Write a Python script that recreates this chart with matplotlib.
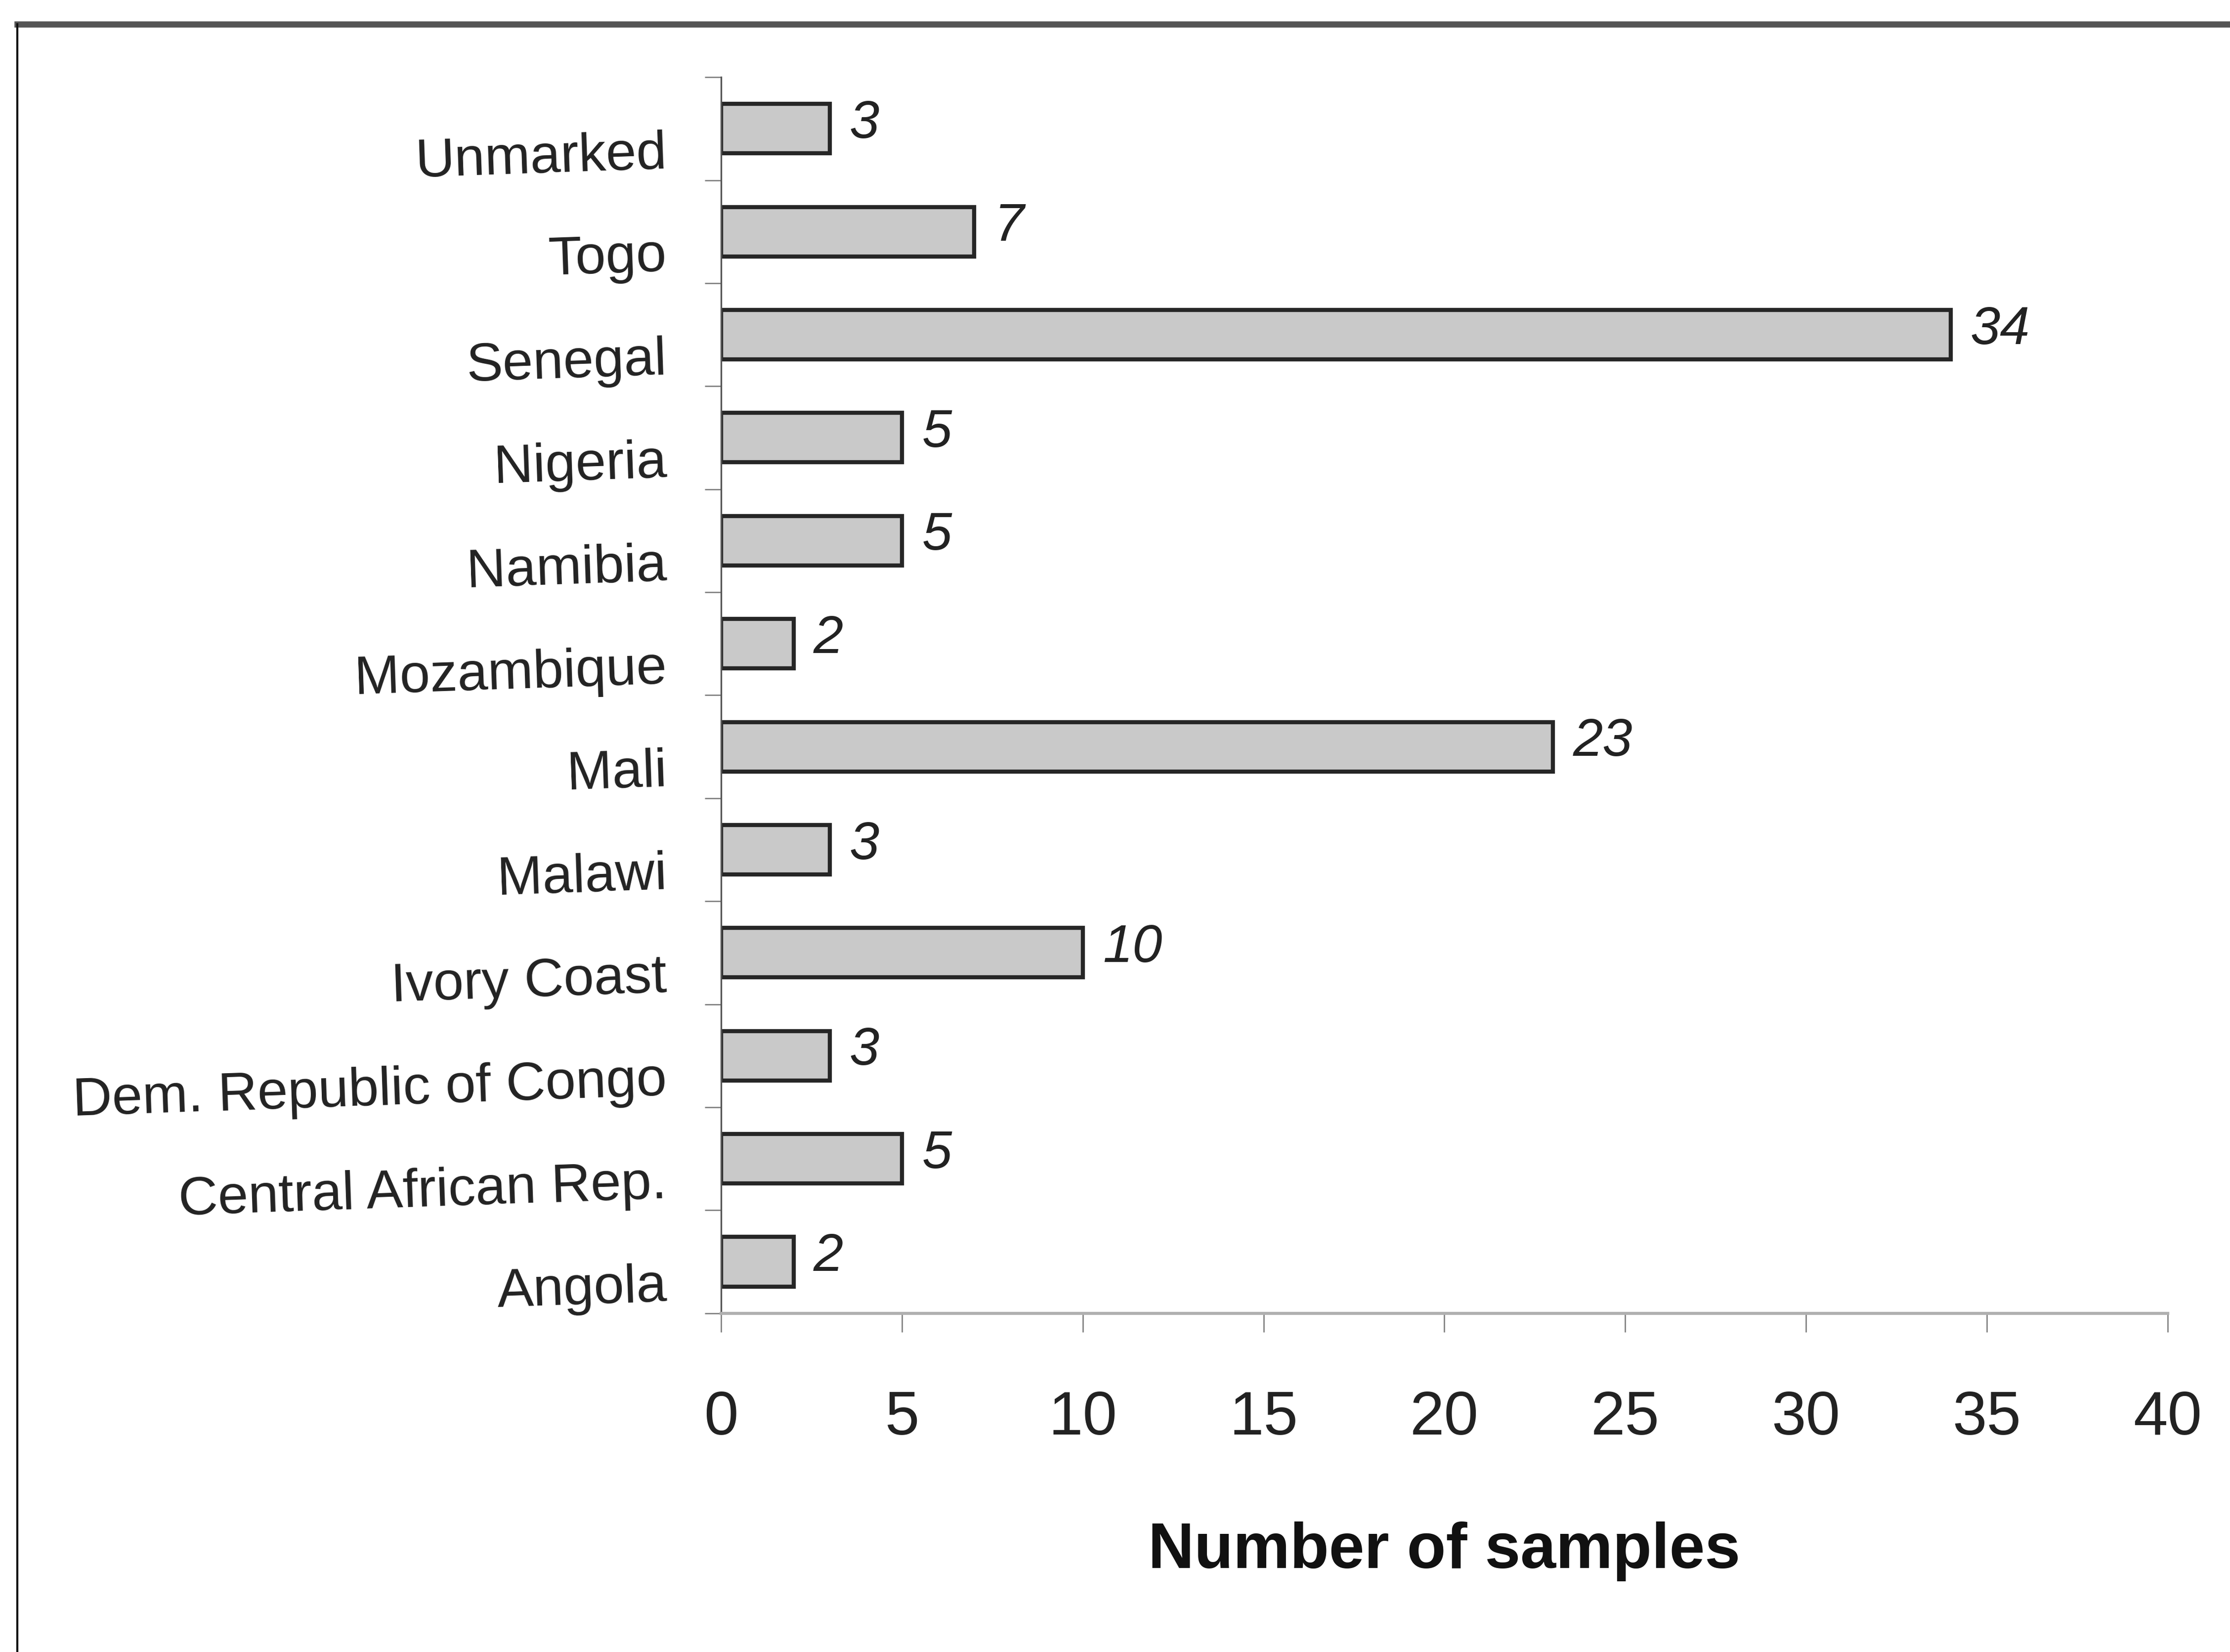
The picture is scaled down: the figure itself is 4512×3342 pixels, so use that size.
import matplotlib.pyplot as plt
import matplotlib.transforms as mtransforms
from matplotlib.lines import Line2D
from matplotlib.ticker import FixedLocator

countries = ["Angola", "Central African Rep.", "Dem. Republic of Congo", "Ivory Coast",
             "Malawi", "Mali", "Mozambique", "Namibia", "Nigeria", "Senegal", "Togo", "Unmarked"]
samples = [2, 5, 3, 10, 3, 23, 2, 5, 5, 34, 7, 3]
x_ticks = [0, 5, 10, 15, 20, 25, 30, 35, 40]

font = ["Liberation Sans", "DejaVu Sans"]

fig = plt.figure(figsize=(15.04, 11.1433), dpi=300)
ax = fig.add_axes([0.3234, 0.205, 0.6486, 0.748])

pos = list(range(len(countries)))
ax.barh(pos, samples, height=0.48, color="#c9c9c9", edgecolor="#262626", linewidth=2)

for y, v in zip(pos, samples):
    ax.text(v + 0.55, y + 0.05, str(v), va="center", ha="left", fontsize=26,
            style="italic", family=font, color="#222222")

ax.set_xlim(0, 40)
ax.set_ylim(-0.5, len(countries) - 0.5)
ax.set_xticks(x_ticks)
ax.set_xticklabels([str(t) for t in x_ticks], family=font, fontsize=30, color="#222222")
ax.tick_params(axis="x", length=9, width=0.6, color="#777777", pad=28)

ax.set_yticks(pos)
ax.set_yticklabels(countries, family=font, fontsize=26.5, color="#222222", rotation=2)
ax.tick_params(axis="y", which="major", length=0, pad=26)
ax.yaxis.set_minor_locator(FixedLocator([p - 0.5 for p in pos] + [len(countries) - 0.5]))
ax.tick_params(axis="y", which="minor", length=8, width=0.6, color="#777777")

# labels in the scan sit a little below their bars
shift = mtransforms.ScaledTranslation(0, -0.13, fig.dpi_scale_trans)
for lbl in ax.get_yticklabels():
    lbl.set_transform(lbl.get_transform() + shift)

ax.spines["top"].set_visible(False)
ax.spines["right"].set_visible(False)
ax.spines["left"].set_color("#555555")
ax.spines["left"].set_linewidth(0.8)
ax.spines["bottom"].set_color("#b0b0b0")
ax.spines["bottom"].set_linewidth(1.5)

ax.set_xlabel("Number of samples", fontsize=31, fontweight="bold",
              family=font, labelpad=36, color="#111111")

# frame around the figure (top and left edges visible in the scan)
fig.add_artist(Line2D([0.0078, 1.0], [0.985, 0.985], transform=fig.transFigure,
                      color="#555555", linewidth=3))
fig.add_artist(Line2D([0.0078, 0.0078], [0.0, 0.985], transform=fig.transFigure,
                      color="#111111", linewidth=1))

fig.savefig("out.png", dpi=300, facecolor="white")
